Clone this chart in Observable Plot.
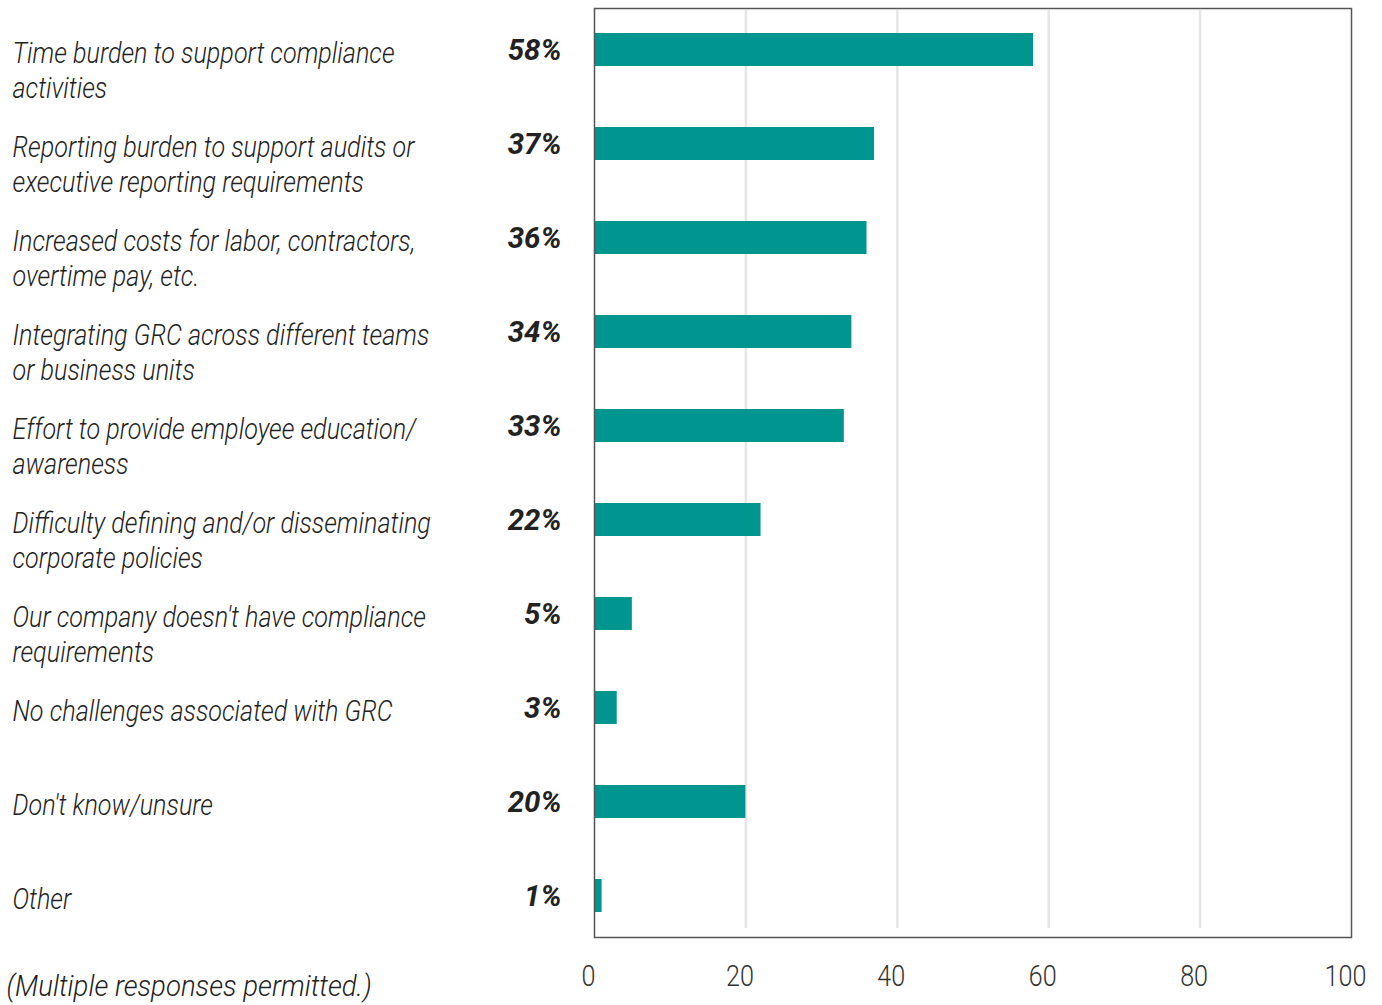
<!DOCTYPE html>
<html>
<head>
<meta charset="utf-8">
<script src="https://cdn.jsdelivr.net/npm/d3@7"></script>
<script src="https://cdn.jsdelivr.net/npm/@observablehq/plot@0.6"></script>
<style>
  html, body { margin: 0; padding: 0; background: #fff; }
  #chart svg { display: block; }
</style>
</head>
<body>
<div id="chart"></div>
<script>
const categories = [
  "Time burden to support compliance\nactivities",
  "Reporting burden to support audits or\nexecutive reporting requirements",
  "Increased costs for labor, contractors,\novertime pay, etc.",
  "Integrating GRC across different teams\nor business units",
  "Effort to provide employee education/\nawareness",
  "Difficulty defining and/or disseminating\ncorporate policies",
  "Our company doesn't have compliance\nrequirements",
  "No challenges associated with GRC",
  "Don't know/unsure",
  "Other"
];
const values = [58, 37, 36, 34, 33, 22, 5, 3, 20, 1];
const xTicks = [0, 20, 40, 60, 80, 100];
const gridTicks = [20, 40, 60, 80];
const caption = "(Multiple responses permitted.)";

const data = categories.map((c, i) => ({category: c, value: values[i]}));
const font = "Roboto, 'DejaVu Sans Condensed', sans-serif";

const chart = Plot.plot({
  width: 1382,
  height: 1005,
  marginTop: 8,
  marginBottom: 68,
  marginLeft: 594,
  marginRight: 31,
  style: {fontFamily: font, fontSize: "30px", color: "#222", background: "#fff"},
  x: {domain: [0, 100]},
  y: {domain: categories, padding: 0.649, paddingOuter: 0.26, axis: null},
  marks: [
    Plot.gridX(gridTicks, {stroke: "#e6e6e6", strokeOpacity: 1, strokeWidth: 2.5, insetTop: 2, insetBottom: 9}),
    Plot.barX(data, {x: "value", y: "category", fill: "#00968f", insetLeft: 1}),
    Plot.frame({stroke: "#555", strokeWidth: 1.5}),
    Plot.axisX(xTicks, {tickSize: 0, tickPadding: 27, dx: -6, fontSize: 30, fontWeight: 300, fill: "#333", label: null, tickFormat: d => String(d), className: "narrow"}),
    Plot.text(data, {
      y: "category", text: "category", frameAnchor: "left", dx: -582,
      textAnchor: "start", lineAnchor: "top", dy: -12, lineHeight: 1.17,
      fontStyle: "italic", fontWeight: 300, fontSize: 30, fill: "#222", className: "narrow"
    }),
    Plot.text(data, {
      y: "category", text: d => d.value + "%", frameAnchor: "left", dx: -33,
      textAnchor: "end", lineAnchor: "middle", fontStyle: "italic", fontWeight: "bold",
      fontSize: 30, fill: "#222", className: "bolder"
    }),
    Plot.text([caption], {
      text: d => d, frameAnchor: "bottom-left", dx: -588, dy: 49,
      textAnchor: "start", lineAnchor: "middle", fontStyle: "italic", fontWeight: 300, fontSize: 30, fill: "#222", className: "caption"
    })
  ]
});
// condense the glyphs horizontally around each text's anchor
function condense(sel, k) {
  d3.select(chart).selectAll(sel).each(function() {
    const t = this.getAttribute("transform") || "";
    this.setAttribute("transform", (t + ` scale(${k},1)`).trim());
  });
}
condense("g.narrow text", 0.84);
condense("g.bolder text", 0.98);
condense("g.caption text", 0.92);
document.getElementById("chart").appendChild(chart);
</script>
</body>
</html>
